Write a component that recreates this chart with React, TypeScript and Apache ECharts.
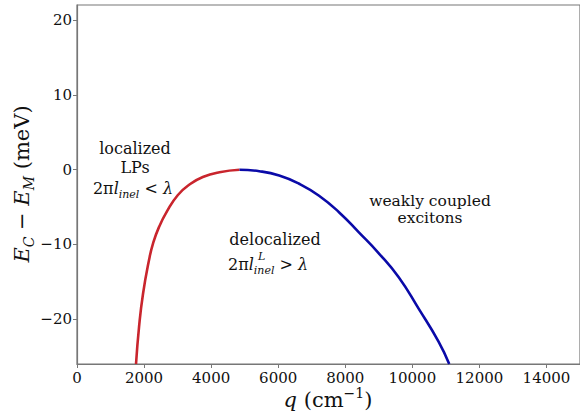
import React, { useEffect, useRef } from "react";
import * as echarts from "echarts";

const xTicks = [0, 2000, 4000, 6000, 8000, 10000, 12000, 14000];
const yTicks = [-20, -10, 0, 10, 20];

// localized LPs branch (red)
const redQ = [1760, 1851, 1969, 2148, 2266, 2444, 2682, 3009, 3356, 3752, 4248, 4845];
const redE = [-26, -21.0, -16.6, -12.1, -9.9, -7.7, -5.6, -3.4, -2.0, -1.0, -0.36, -0.03];

// weakly coupled excitons branch (blue)
const blueQ = [4845, 5436, 6030, 6624, 7218, 7812, 8406, 9000, 9594, 10188, 10782, 11100];
const blueE = [-0.03, -0.22, -0.8, -1.9, -3.5, -5.7, -8.4, -11.2, -14.4, -18.6, -23.0, -26];

const FONT = "DejaVu Serif";
const AXIS_COLOR = "#777777";

export default function App() {
  const ref = useRef<HTMLDivElement>(null);

  useEffect(() => {
    document.body.style.margin = "0";
    if (!ref.current) return;
    const chart = echarts.init(ref.current, undefined, { renderer: "svg" });
    const minus = (v: number) => String(v).replace("-", "\u2212");

    const ann = (x: number, y: number, text: string, rich?: any, align = "center", fontSize = 16) => ({
      type: "text",
      x,
      y,
      style: {
        text,
        fontFamily: FONT,
        fontSize,
        fill: "#111",
        align,
        verticalAlign: "middle",
        rich,
      },
      silent: true,
    });

    const mathRich = {
      n: { fontFamily: FONT, fontSize: 16, lineHeight: 24, fill: "#111" },
      i: { fontFamily: FONT, fontSize: 16, fontStyle: "italic", lineHeight: 24, fill: "#111" },
      s: { fontFamily: FONT, fontSize: 11, fontStyle: "italic", lineHeight: 12, verticalAlign: "bottom", fill: "#111" },
    };

    chart.setOption({
      animation: false,
      grid: { left: 77, right: -2, top: 5, bottom: 50, show: true, borderColor: AXIS_COLOR, borderWidth: 1.2 },
      xAxis: {
        type: "value",
        min: 0,
        max: 15000,
        splitLine: { show: false },
        axisLine: { show: true, onZero: false, lineStyle: { color: AXIS_COLOR, width: 1.2 } },
        axisTick: { show: true, length: 4, lineStyle: { color: AXIS_COLOR }, customValues: xTicks },
        axisLabel: {
          customValues: xTicks,
          fontFamily: FONT,
          fontSize: 15,
          color: "#111",
          margin: 6,
          formatter: (v: number) => minus(v),
        },
      },
      yAxis: {
        type: "value",
        min: -26,
        max: 22,
        splitLine: { show: false },
        axisLine: { show: true, onZero: false, lineStyle: { color: AXIS_COLOR, width: 1.2 } },
        axisTick: { show: true, length: 4, lineStyle: { color: AXIS_COLOR }, customValues: yTicks },
        axisLabel: {
          customValues: yTicks,
          fontFamily: FONT,
          fontSize: 15,
          color: "#111",
          margin: 5,
          formatter: (v: number) => minus(v),
        },
      },
      series: [
        {
          type: "line",
          data: redQ.map((q, i) => [q, redE[i]]),
          smooth: 0.5,
          symbol: "none",
          lineStyle: { color: "#c9252d", width: 2.6 },
          z: 3,
        },
        {
          type: "line",
          data: blueQ.map((q, i) => [q, blueE[i]]),
          smooth: 0.5,
          symbol: "none",
          lineStyle: { color: "#0a0aa8", width: 2.6 },
          z: 3,
        },
      ],
      graphic: [
        {
          type: "text",
          x: 22,
          y: 184,
          rotation: Math.PI / 2,
          style: {
            text: "{i|E}{s|C}{n| \u2212 }{i|E}{s|M}{n| (meV)}",
            align: "center",
            verticalAlign: "middle",
            rich: {
              n: { fontFamily: FONT, fontSize: 21, lineHeight: 28, fill: "#111" },
              i: { fontFamily: FONT, fontSize: 21, fontStyle: "italic", lineHeight: 28, fill: "#111" },
              s: { fontFamily: FONT, fontSize: 14, fontStyle: "italic", lineHeight: 14, verticalAlign: "bottom", fill: "#111" },
            },
          },
          silent: true,
        },
        {
          type: "text",
          x: 328,
          y: 400,
          style: {
            text: "{i|q}{n| (cm}{p|\u22121}{n|)}",
            align: "center",
            verticalAlign: "middle",
            rich: {
              n: { fontFamily: FONT, fontSize: 21, lineHeight: 28, fill: "#111" },
              i: { fontFamily: FONT, fontSize: 21, fontStyle: "italic", lineHeight: 28, fill: "#111" },
              p: { fontFamily: FONT, fontSize: 14, lineHeight: 14, verticalAlign: "top", fill: "#111" },
            },
          },
          silent: true,
        },
        ann(135, 148, "localized"),
        ann(135, 167, "LPs"),
        ann(133, 188, "{n|2\u03c0}{i|l}{s|inel}{n| < }{i|\u03bb}", mathRich),
        ann(275, 239, "delocalized"),
        ann(228, 264, "{n|2\u03c0}{i|l}{s|inel}{n| > }{i|\u03bb}", mathRich, "left"),
        {
          type: "text",
          x: 258,
          y: 256,
          style: { text: "L", fontFamily: FONT, fontSize: 11, fontStyle: "italic", fill: "#111", align: "left", verticalAlign: "middle" },
          silent: true,
        },
        ann(430, 201, "weakly coupled", undefined, "center", 15.5),
        ann(430, 218, "excitons", undefined, "center", 15.5),
      ],
    });

    return () => chart.dispose();
  }, []);

  return <div ref={ref} style={{ width: 580, height: 414 }} />;
}
